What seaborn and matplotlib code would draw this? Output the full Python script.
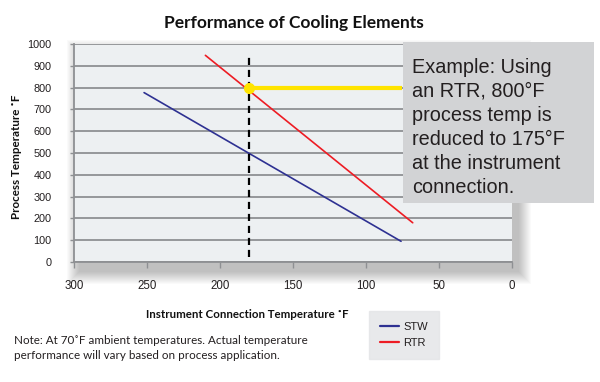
import matplotlib
matplotlib.use("Agg")
import pandas as pd
import matplotlib.pyplot as plt
from matplotlib.patches import Rectangle
from matplotlib.lines import Line2D
import seaborn as sns

# ── Data ───────────────────────────────────────────────────────────────────────
elements = ["STW", "STW", "RTR", "RTR"]
instrument_temp = [252, 76, 210, 68]
process_temp = [777, 95, 948, 180]

example_instrument = 180
example_process = 800
dashed_span = [25, 960]
yellow_span = [180, 75]

x_ticks = [300, 250, 200, 150, 100, 50, 0]
y_ticks = [0, 100, 200, 300, 400, 500, 600, 700, 800, 900, 1000]

PALETTE = {"STW": "#2E3192", "RTR": "#ED1C24"}

example_text = ("Example: Using\nan RTR, 800°F\nprocess temp is\n"
                "reduced to 175°F\nat the instrument\nconnection.")
note_text = ("Note: At 70˚F ambient temperatures. Actual temperature\n"
             "performance will vary based on process application.")

# ── Style ──────────────────────────────────────────────────────────────────────
sns.set_theme(style="white")
plt.rcParams["font.family"] = ["Liberation Sans", "DejaVu Sans"]

W, H = 600, 382
fig = plt.figure(figsize=(W / 100, H / 100), dpi=100)
fig.patch.set_facecolor("white")

# axes box in pixels: left 74, right 512, top 44, bottom 262
ax_l, ax_r, ax_t, ax_b = 74, 512, 44, 262
ax = fig.add_axes([ax_l / W, 1 - ax_b / H, (ax_r - ax_l) / W, (ax_b - ax_t) / H])
ax.set_facecolor("#EDF0F2")

# soft drop shadow behind the plot area
for r in range(1, 14):
    fig.add_artist(Rectangle(
        ((ax_l + 6 - r) / W, 1 - (ax_b + 9 + r) / H),
        (ax_r - ax_l + 2 * r) / W, (ax_b - ax_t + 2 * r) / H,
        transform=fig.transFigure, color="black", alpha=0.018, lw=0, zorder=-1,
    ))

df = pd.DataFrame({"element": elements, "instrument": instrument_temp,
                   "process": process_temp})

for y in y_ticks:
    ax.axhline(y, color="#8E9093", lw=1.3, zorder=1)

sns.lineplot(data=df, x="instrument", y="process", hue="element",
             palette=PALETTE, estimator=None, lw=1.2, legend=False, ax=ax,
             zorder=3)

ax.plot([example_instrument, example_instrument], dashed_span, color="black",
        lw=1.6, ls=(0, (3.2, 2.2)), zorder=4)
ax.plot(yellow_span, [example_process, example_process], color="#FFE400",
        lw=3, solid_capstyle="butt", zorder=4)
ax.plot([example_instrument], [example_process], "o", color="#FFE400",
        ms=7, zorder=5)

ax.set_xlim(300, 0)
ax.set_ylim(0, 1000)
ax.set_xticks(x_ticks)
ax.set_yticks(y_ticks)
ax.tick_params(axis="x", direction="out", length=4, width=1, color="#8E9093",
               pad=9, labelsize=8.3, labelcolor="#231F20")
ax.tick_params(axis="y", direction="out", length=3, width=1, color="#8E9093",
               pad=13, labelsize=7.8, labelcolor="#231F20")
ax.tick_params(bottom=True, left=True)
for s in ["top", "right"]:
    ax.spines[s].set_visible(False)
for s in ["left", "bottom"]:
    ax.spines[s].set_color("#8E9093")
    ax.spines[s].set_linewidth(1.3)
ax.set_xlabel("")
ax.set_ylabel("")

# ── Text ───────────────────────────────────────────────────────────────────────
bold = dict(family=["Lato", "DejaVu Sans"], fontweight="bold", color="#111111")
fig.text(294 / W, 1 - 23 / H, "Performance of Cooling Elements",
         ha="center", va="center", fontsize=12.5, **bold)
fig.text(17 / W, 1 - 157 / H, "Process Temperature ˚F", rotation=90,
         ha="center", va="center", fontsize=8.4, **bold)
fig.text(247 / W, 1 - 314 / H, "Instrument Connection Temperature ˚F",
         ha="center", va="center", fontsize=8.3, **bold)
fig.text(14 / W, 1 - 335 / H, note_text, ha="left", va="top", fontsize=8.4,
         family=["Lato", "DejaVu Sans"], color="#231F20", linespacing=1.45)

# example call-out box
fig.add_artist(Rectangle((403 / W, 1 - 203 / H), 191 / W, 161 / H,
                         transform=fig.transFigure, color="#D2D3D5", lw=0,
                         zorder=5))
fig.text(412 / W, 1 - 58 / H, example_text, ha="left", va="top",
         fontsize=14.3, color="#231F20", linespacing=1.33, zorder=6)

# legend
handles = [Line2D([], [], color=PALETTE[k], lw=1.6) for k in ["STW", "RTR"]]
leg = fig.legend(handles, ["STW", "RTR"], loc="upper left",
                 bbox_to_anchor=(369 / W, 1 - 311 / H), borderaxespad=0,
                 fontsize=8, frameon=True, fancybox=False, borderpad=1.0,
                 handlelength=1.7, handletextpad=0.4, labelspacing=0.55)
leg.get_frame().set_facecolor("#E3E4E6")
leg.get_frame().set_edgecolor("#E3E4E6")
for t in leg.get_texts():
    t.set_color("#231F20")

fig.savefig("out.png", dpi=100)
